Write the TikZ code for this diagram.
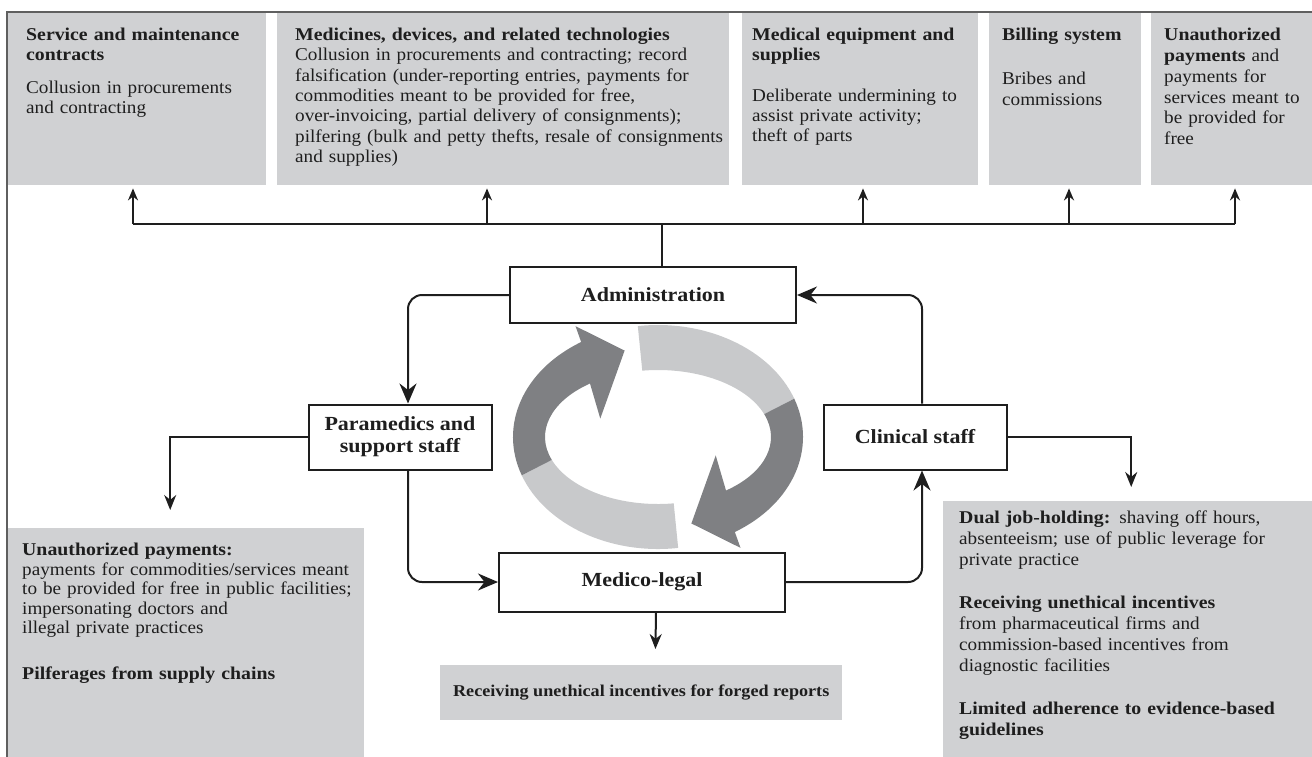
\documentclass[tikz,border=0pt]{standalone}
\usepackage{fontspec}
\setmainfont{Liberation Serif}[FakeStretch=1.065, BoldFeatures={FakeStretch=1.1}]
\usetikzlibrary{arrows.meta}

\definecolor{panelgray}{RGB}{208,209,211}
\definecolor{ringlight}{RGB}{200,201,203}
\definecolor{ringdark}{RGB}{127,128,131}
\definecolor{inkdark}{RGB}{30,30,30}
\definecolor{framegray}{RGB}{95,95,95}

\tikzset{
  panel/.style={fill=panelgray, inner sep=0pt, anchor=north west},
  paneltext/.style={anchor=north west, align=left, inner sep=0pt, text=inkdark,
    font=\fontsize{18}{20.3}\selectfont},
  unit/.style={draw=inkdark, line width=2pt, fill=white, align=center, text=inkdark,
    font=\fontsize{20}{22}\selectfont\bfseries},
  wire/.style={draw=inkdark, line width=2pt},
  link/.style={wire, rounded corners=14pt, -{Stealth[length=20pt,width=17pt]}},
  drop/.style={wire, -{Stealth[length=15pt,width=12pt]}},
  feed/.style={wire, -{Stealth[length=12pt,width=10pt]}},
}

\begin{document}
\begin{tikzpicture}[x=1pt, y=-1pt]
  \clip (0,0) rectangle (1312,756);
  % outer frame
  \draw[framegray, line width=1.5pt] (7,12) rectangle (1330,780);

  % top row of panels
  \node[panel, minimum width=258pt, minimum height=172pt] (svc) at (8,13) {};
  \node[panel, minimum width=452pt, minimum height=172pt] (meds) at (277,13) {};
  \node[panel, minimum width=236pt, minimum height=172pt] (equip) at (742,13) {};
  \node[panel, minimum width=152pt, minimum height=172pt] (bill) at (989,13) {};
  \node[panel, minimum width=170pt, minimum height=172pt] (unauth) at (1151,13) {};

  \node[paneltext, text width=250pt] (svc-t) at ([shift={(18pt,-15pt)}]svc.north west)
    {\textbf{Service and maintenance\\contracts}\\[12pt]Collusion in procurements\\and contracting};
  \node[paneltext, text width=480pt] (meds-t) at ([shift={(18pt,-15pt)}]meds.north west)
    {\textbf{Medicines, devices, and related technologies}\\
     Collusion in procurements and contracting; record\\
     falsification (under-reporting entries, payments for\\
     commodities meant to be provided for free,\\
     over-invoicing, partial delivery of consignments);\\
     pilfering (bulk and petty thefts, resale of consignments\\
     and supplies)};
  \node[paneltext, text width=240pt] (equip-t) at ([shift={(10pt,-15pt)}]equip.north west)
    {\textbf{Medical equipment and\\supplies}\\[20pt]Deliberate undermining to\\assist private activity;\\theft of parts};
  \node[paneltext, text width=150pt] (bill-t) at ([shift={(13pt,-15pt)}]bill.north west)
    {\textbf{Billing system}\\[24pt]Bribes and\\commissions};
  \node[paneltext, text width=170pt, font=\fontsize{18}{20.8}\selectfont] (unauth-t)
    at ([shift={(13pt,-15pt)}]unauth.north west)
    {\textbf{Unauthorized\\payments} and\\payments for\\services meant to\\be provided for\\free};

  % lower panels
  \node[panel, minimum width=356pt, minimum height=240pt] (support) at (8,528) {};
  \node[paneltext, text width=360pt, font=\fontsize{18}{19.5}\selectfont] (support-t)
    at ([shift={(14pt,-15pt)}]support.north west)
    {\textbf{Unauthorized payments:}\\
     payments for commodities/services meant\\
     to be provided for free in public facilities;\\
     impersonating doctors and\\
     illegal private practices\\[26pt]
     \textbf{Pilferages from supply chains}};
  \node[panel, minimum width=380pt, minimum height=260pt] (clinic) at (943,501) {};
  \node[paneltext, text width=370pt, font=\fontsize{18}{21}\selectfont] (clinic-t)
    at ([shift={(16pt,-10pt)}]clinic.north west)
    {\textbf{Dual job-holding:} shaving off hours,\\
     absenteeism; use of public leverage for\\
     private practice\\[22pt]
     \textbf{Receiving unethical incentives}\\
     from pharmaceutical firms and\\
     commission-based incentives from\\
     diagnostic facilities\\[22pt]
     \textbf{Limited adherence to evidence-based\\guidelines}};
  \node[panel, minimum width=402pt, minimum height=55pt, text=inkdark,
    font=\fontsize{16.5}{20}\selectfont\bfseries] (forged) at (440,665)
    {Receiving unethical incentives for forged reports};

  % cycle in the middle
  \begin{scope}[shift={(658,437)}]
    \foreach \rot in {0,180} {
      \begin{scope}[rotate=\rot]
        \fill[ringlight] (200:145pt and 112pt)
          arc[start angle=200, end angle=278, x radius=145pt, y radius=112pt]
          -- (278:113pt and 67pt)
          arc[start angle=278, end angle=200, x radius=113pt, y radius=67pt] -- cycle;
        \fill[ringdark] (200:145pt and 112pt)
          arc[start angle=200, end angle=122, x radius=145pt, y radius=112pt]
          -- (120:165pt and 128pt) -- (105:129pt and 89.5pt) -- (151:66pt and 38pt)
          -- (127:113pt and 67pt)
          arc[start angle=127, end angle=200, x radius=113pt, y radius=67pt] -- cycle;
      \end{scope}
    }
  \end{scope}

  % staff groups
  \node[unit, minimum width=286pt, minimum height=56pt] (admin) at (653,295) {Administration};
  \node[unit, minimum width=183pt, minimum height=65pt] (paramed) at (400,437) {Paramedics and\\support staff};
  \node[unit, minimum width=183pt, minimum height=65pt] (clinical) at (915,437) {Clinical staff};
  \node[unit, minimum width=286pt, minimum height=59pt] (medico) at (642,582) {Medico-legal};

  % bus to the top panels
  \coordinate (hub) at (662,224);
  \coordinate (bus1) at (133,224);
  \coordinate (bus2) at (487,224);
  \coordinate (bus3) at (863,224);
  \coordinate (bus4) at (1069,224);
  \coordinate (bus5) at (1235,224);
  \draw[wire] (hub |- admin.north) -- (hub);
  \draw[wire] (bus1) -- (bus5);
  \foreach \b/\p in {bus1/svc, bus2/meds, bus3/equip, bus4/bill, bus5/unauth}
    \draw[feed, shorten >=3pt] (\b) -- (\b |- \p.south);

  % loop between the groups
  \draw[link] (admin.west) -| ([xshift=8pt]paramed.north);
  \draw[link] ([xshift=7pt]clinical.north) |- (admin.east);
  \draw[link] ([xshift=8pt]paramed.south) |- (medico.west);
  \draw[link] (medico.east) -| ([xshift=7pt]clinical.south);

  % groups to their panels
  \draw[drop, shorten >=18pt] (paramed.west) -| ([xshift=-16pt]support.north);
  \draw[drop, shorten >=14pt] (clinical.east) -| ([xshift=-2pt]clinic.north);
  \draw[drop, shorten >=16pt] ([xshift=14pt]medico.south) -- ([xshift=14pt]forged.north);
\end{tikzpicture}
\end{document}
